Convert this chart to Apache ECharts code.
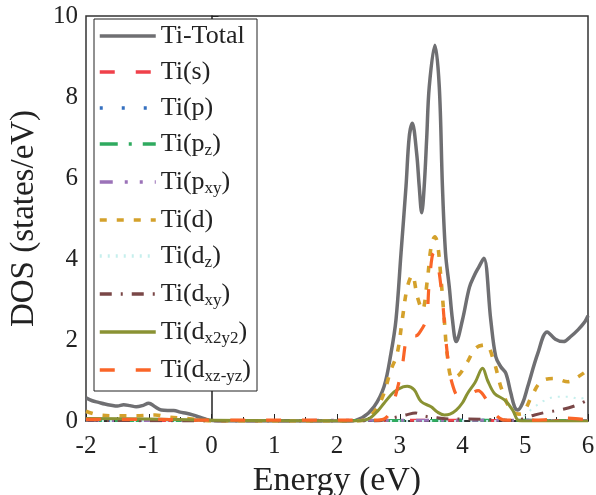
<!DOCTYPE html>
<html>
<head>
<meta charset="utf-8">
<script src="https://cdn.jsdelivr.net/npm/echarts@6/dist/echarts.min.js"></script>
<style>html,body{margin:0;padding:0;background:#fff;}#c{width:596px;height:495px;}</style>
</head>
<body>
<div id="c"></div>
<script>
// ---- data: [energy (eV), DOS (states/eV)] ----
const seriesNames = ['Ti-Total','Ti(s)','Ti(p)','Ti(pz)','Ti(pxy)','Ti(d)','Ti(dz)','Ti(dxy)','Ti(dx2y2)','Ti(dxz-yz)'];
const legendLabels = ['{n|Ti-Total}','{n|Ti(s)}','{n|Ti(p)}','{n|Ti(p}{s|z}{n|)}','{n|Ti(p}{s|xy}{n|)}','{n|Ti(d)}','{n|Ti(d}{s|z}{n|)}','{n|Ti(d}{s|xy}{n|)}','{n|Ti(d}{s|x2y2}{n|)}','{n|Ti(d}{s|xz-yz}{n|)}'];

const tiTotal = [[-2,0.57],[-1.9,0.5],[-1.8,0.46],[-1.7,0.42],[-1.6,0.39],[-1.5,0.37],[-1.4,0.4],[-1.3,0.38],[-1.2,0.35],[-1.1,0.38],[-1.0,0.44],[-0.9,0.35],[-0.8,0.27],[-0.7,0.26],[-0.6,0.26],[-0.5,0.22],[-0.4,0.19],[-0.3,0.15],[-0.2,0.1],[-0.1,0.05],[0,0.01],[0.1,0],[2.2,0],[2.4,0.08],[2.59,0.35],[2.75,0.85],[2.86,1.67],[2.94,2.5],[3.02,4.14],[3.1,5.8],[3.15,7.0],[3.2,7.35],[3.27,6.6],[3.31,5.8],[3.35,5.14],[3.39,5.8],[3.43,7.0],[3.47,8.25],[3.56,9.28],[3.63,8.25],[3.68,5.8],[3.73,4.14],[3.79,3.3],[3.84,2.5],[3.9,1.96],[4.0,2.5],[4.11,3.3],[4.19,3.6],[4.26,3.8],[4.34,4.02],[4.45,2.5],[4.53,1.59],[4.61,1.34],[4.69,1.18],[4.77,0.69],[4.83,0.35],[4.88,0.27],[4.96,0.45],[5.04,0.85],[5.2,1.67],[5.35,2.2],[5.48,2.02],[5.61,1.96],[5.72,2.08],[5.84,2.25],[5.95,2.45],[6.0,2.6]];
const tiS = [[-2,0.02],[0,0.01],[2.5,0.01],[3.5,0.02],[5,0.01],[6,0.01]];
const tiP = [[-2,0.01],[0,0.01],[3,0.01],[4,0.02],[6,0.01]];
const tiPz = [[-2,0.01],[0,0.01],[3,0.01],[4,0.02],[6,0.01]];
const tiPxy = [[-2,0.01],[0,0.01],[3,0.02],[4,0.02],[6,0.01]];
const tiD = [[-2,0.24],[-1.8,0.15],[-1.5,0.13],[-1.2,0.13],[-0.9,0.15],[-0.7,0.1],[-0.4,0.06],[-0.1,0.01],[0,0],[2.3,0],[2.5,0.08],[2.7,0.5],[2.86,1.26],[2.96,1.67],[3.04,2.5],[3.12,3.3],[3.2,3.6],[3.28,3.07],[3.36,2.74],[3.44,3.48],[3.5,4.3],[3.56,4.55],[3.6,4.4],[3.65,3.65],[3.71,2.5],[3.76,1.59],[3.84,1.05],[3.95,1.15],[4.08,1.46],[4.21,1.8],[4.37,1.88],[4.51,1.42],[4.61,0.85],[4.77,0.27],[4.9,0.17],[4.96,0.19],[5.1,0.6],[5.25,0.97],[5.46,1.05],[5.68,0.97],[5.85,1.1],[6.0,1.26]];
const tiDz = [[-2,0],[4.9,0],[5.0,0.15],[5.15,0.35],[5.3,0.5],[5.5,0.6],[5.7,0.6],[5.85,0.55],[6.0,0.6]];
const tiDxy = [[-2,0.02],[0,0],[2.6,0],[2.9,0.08],[3.1,0.15],[3.25,0.2],[3.4,0.12],[3.6,0.08],[3.8,0.05],[4.1,0.05],[4.5,0.03],[4.85,0.01],[5.0,0.08],[5.15,0.15],[5.35,0.22],[5.55,0.27],[5.8,0.38],[6.0,0.52]];
const tiDx2y2 = [[-2,0.06],[-1,0.05],[0,0.02],[2.3,0],[2.5,0.05],[2.65,0.25],[2.75,0.44],[2.91,0.72],[3.05,0.84],[3.12,0.86],[3.23,0.77],[3.34,0.48],[3.5,0.35],[3.6,0.22],[3.71,0.15],[3.8,0.17],[3.9,0.27],[4.0,0.45],[4.08,0.68],[4.2,0.95],[4.32,1.3],[4.4,1.0],[4.51,0.68],[4.67,0.52],[4.8,0.27],[4.88,0.02],[4.95,0],[6,0]];
const tiDxzyz = [[-2,0.04],[-1,0.04],[0,0.02],[2.6,0.02],[2.75,0.05],[2.86,0.27],[3.02,1.18],[3.15,2.17],[3.25,2.1],[3.31,2.17],[3.42,2.5],[3.47,3.4],[3.54,4.15],[3.6,3.93],[3.68,2.99],[3.73,2.08],[3.79,1.26],[3.84,0.9],[3.92,0.62],[4.0,0.6],[4.13,0.68],[4.25,0.75],[4.35,0.6],[4.45,0.32],[4.55,0.12],[4.65,0.03],[5.0,0.02],[5.3,0.03],[5.6,0.07],[5.8,0.06],[6.0,0.02]];

const allData = [tiTotal,tiS,tiP,tiPz,tiPxy,tiD,tiDz,tiDxy,tiDx2y2,tiDxzyz];
const colors = ['#6f6f72','#f0404a','#3570c0','#2faa5f','#9b72b8','#d4a12b','#c6efed','#7a4747','#8a9233','#fa6528'];
const dashes = ['solid',[15,21],[3,19],[18,11,3,11],[13,12,3,12,3,12],[7,10],[2,6],[12,9,2,9],'solid',[15,21]];
const widths = [3.5,3,3,3,3,3.6,2,3,3,3.2];

const FONT = '"Liberation Serif","Times New Roman",serif';
const chart = echarts.init(document.getElementById('c'));
chart.setOption({
  animation:false,
  backgroundColor:'#fff',
  grid:{left:86,right:8,top:16,bottom:74,outerBoundsMode:'none',containLabel:false,show:true,borderColor:'#333',borderWidth:1.5,backgroundColor:'transparent'},
  xAxis:{type:'value',min:-2,max:6,interval:1,
    name:'Energy (eV)',nameLocation:'middle',nameGap:32,
    nameTextStyle:{fontFamily:FONT,fontSize:34,color:'#222'},
    axisLine:{lineStyle:{color:'#222',width:1.5}},
    axisTick:{inside:true,length:7,lineStyle:{color:'#222'}},
    minorTick:{show:true,splitNumber:2,length:4,lineStyle:{color:'#222'}},
    splitLine:{show:false},
    axisLabel:{fontFamily:FONT,fontSize:25,color:'#222',margin:13}},
  yAxis:{type:'value',min:0,max:10,interval:2,
    name:'DOS (states/eV)',nameLocation:'middle',nameGap:45,
    nameTextStyle:{fontFamily:FONT,fontSize:33,color:'#222'},
    axisLine:{show:true,lineStyle:{color:'#222',width:1.5}},
    axisTick:{show:true,inside:true,length:7,lineStyle:{color:'#222'}},
    minorTick:{show:true,splitNumber:2,length:4,lineStyle:{color:'#222'}},
    splitLine:{show:false},
    axisLabel:{fontFamily:FONT,fontSize:25,color:'#222',margin:8}},
  legend:{orient:'vertical',left:94,top:19,padding:[4,6,6,4],
    borderColor:'#222',borderWidth:1,backgroundColor:'#fff',
    itemWidth:56,itemHeight:14,itemGap:10,
    itemStyle:{color:'rgba(0,0,0,0)',borderColor:'rgba(0,0,0,0)',borderWidth:0,opacity:0},
    lineStyle:{width:3.5},
    data:seriesNames,
    formatter:function(name){return legendLabels[seriesNames.indexOf(name)];},
    textStyle:{fontFamily:FONT,color:'#222',rich:{
      n:{fontFamily:FONT,fontSize:26,color:'#222',lineHeight:30},
      s:{fontFamily:FONT,fontSize:17,color:'#222',lineHeight:18,verticalAlign:'bottom'}}}},
  series:allData.map(function(d,i){return {
    name:seriesNames[i],type:'line',data:d,symbol:'none',showSymbol:false,
    smooth:0.35,z:2+i,
    lineStyle:{color:colors[i],width:widths[i],type:dashes[i],cap:'butt'},
    itemStyle:{color:colors[i]}};})
});
</script>
</body>
</html>
